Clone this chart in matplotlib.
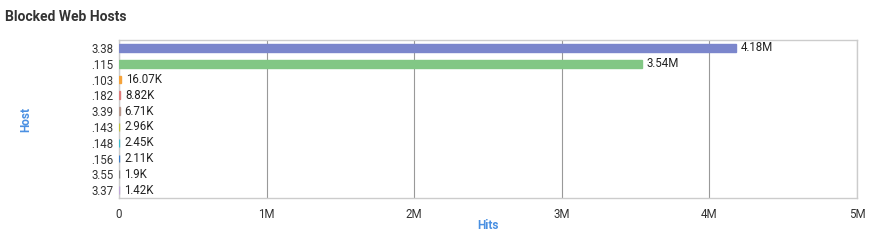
import matplotlib
matplotlib.use('Agg')
import matplotlib.pyplot as plt

hosts = ['3.38', '.115', '.103', '.182', '3.39', '.143', '.148', '.156', '3.55', '3.37']
hits = [4180000, 3540000, 16070, 8820, 6710, 2960, 2450, 2110, 1900, 1420]
labels = ['4.18M', '3.54M', '16.07K', '8.82K', '6.71K', '2.96K', '2.45K', '2.11K', '1.9K', '1.42K']
colors = ['#7b86cc', '#82c785', '#f5a33a', '#e07b7b', '#b8988c', '#c2c23a',
          '#3cbccc', '#3a7cc8', '#8a8a8a', '#c0a8d8']
xticks = [0, 1e6, 2e6, 3e6, 4e6, 5e6]
xticklabels = ['0', '1M', '2M', '3M', '4M', '5M']

plt.rcParams['font.family'] = ['Roboto', 'DejaVu Sans']

fig = plt.figure(figsize=(8.73, 2.40), dpi=100)
ax = fig.add_axes([0.1363, 0.175, 0.8454, 0.6583])

y = list(range(len(hosts)))
# thin edge in the bar colour keeps the tiny bars visible
ax.barh(y, hits, height=0.5, color=colors, edgecolor=colors, linewidth=1.0, zorder=3)
for yi, v, lab in zip(y, hits, labels):
    ax.text(v + 32000, yi, lab, va='center', ha='left', fontsize=8.3, color='#222222', zorder=4)

ax.set_ylim(len(hosts) - 0.5, -0.5)
ax.set_yticks(y)
ax.set_yticklabels(hosts, fontsize=8.3, color='#333333')
ax.set_xlim(0, 5e6)
ax.set_xticks(xticks)
ax.set_xticklabels(xticklabels, fontsize=8.3, color='#333333')
ax.tick_params(length=0, pad=4)
ax.tick_params(axis='x', pad=7)
ax.grid(axis='x', color='#999999', linewidth=0.8, zorder=0)
for s in ax.spines.values():
    s.set_color('#cccccc')
    s.set_linewidth(1)

fig.text(0.006, 0.93, 'Blocked Web Hosts', fontsize=10, fontweight='bold', color='#333333', ha='left', va='center')
fig.text(0.029, 0.5, 'Host', fontsize=8.5, fontweight='bold', color='#4a90e2', rotation=90, ha='center', va='center')
fig.text(0.559, 0.06, 'Hits', fontsize=8.5, fontweight='bold', color='#4a90e2', ha='center', va='center')

fig.savefig('out.png', dpi=100, facecolor='white')
